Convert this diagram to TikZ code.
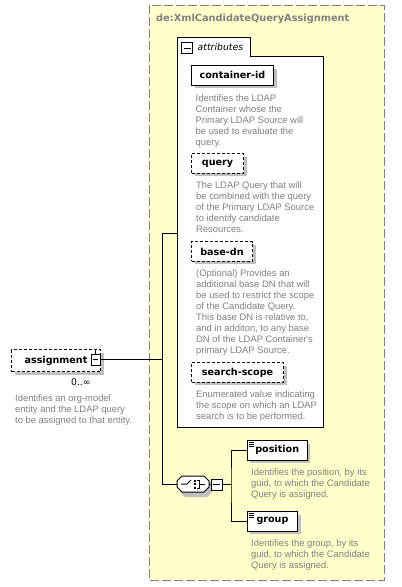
\documentclass[tikz,border=0pt]{standalone}
\usepackage{fontspec}
\setmainfont{DejaVu Sans}
\newfontfamily\descfont{Liberation Sans}
\usetikzlibrary{shadows}
\definecolor{bgyellow}{HTML}{FFFFCC}
\definecolor{txtgray}{HTML}{808080}
\definecolor{shad}{HTML}{C0C0C0}
\tikzset{
  elem/.style={draw=black, fill=white, line width=1pt, anchor=north west, inner sep=0pt,
    font=\fontsize{9.6}{11}\selectfont\bfseries,
    drop shadow={shadow xshift=3pt, shadow yshift=-3pt, fill=shad, opacity=1}},
  optelem/.style={elem, dash pattern=on 3pt off 2pt},
  desc/.style={anchor=north west, inner sep=0pt, align=left, text=txtgray,
    font=\descfont\fontsize{9.4}{11}\selectfont},
  conn/.style={draw=black, line width=1pt},
  minusbox/.style={draw=black, fill=white, line width=1pt, inner sep=0pt,
    minimum width=#1, minimum height=#1,
    path picture={\draw[line width=1pt] ([xshift=2pt]path picture bounding box.west) -- ([xshift=-2pt]path picture bounding box.east);}},
  frame/.style={draw=txtgray, line width=1pt, dash pattern=on 9pt off 3pt},
}
\begin{document}
\begin{tikzpicture}[x=1pt, y=-1pt]
\useasboundingbox (0,0) rectangle (402,587);
\fill[white] (0,0) rectangle (402,587);

% complex type frame
\draw[frame, fill=bgyellow] (149,5) rectangle (384,580);
\node[anchor=north west, inner sep=0pt, text=txtgray, font=\fontsize{9.8}{12}\selectfont\bfseries]
  (title) at (156,13.5) {de:XmlCandidateQueryAssignment};

% attributes group
\draw[conn, fill=white] (177.3,56) -- (177.3,37.7) -- (250,37.7) -- (250,56) -- (323.3,56) -- (323.3,427.3) -- (177.3,427.3) -- cycle;
\node[minusbox=11pt] (attrm) at (187,48) {};
\node[anchor=north west, inner sep=0pt, font=\fontsize{9.3}{11}\selectfont\itshape] (attrlbl) at (197.5,43.5) {attributes};
\coordinate (attrL) at (177.3,233);

\node[elem, minimum width=82pt, minimum height=19.5pt] (cid) at (191,65) {container-id};
\node[desc] (ciddesc) at (195.5,94) {Identifies the LDAP\\Container whose the\\Primary LDAP Source will\\be used to evaluate the\\query.};

\node[optelem, minimum width=52pt, minimum height=19.5pt] (query) at (191,153.3) {query};
\node[desc] (querydesc) at (196,181) {The LDAP Query that will\\be combined with the query\\of the Primary LDAP Source\\to identify candidate\\Resources.};

\node[optelem, minimum width=61pt, minimum height=19.5pt] (basedn) at (191,241.2) {base-dn};
\node[desc] (basedndesc) at (196,269) {(Optional) Provides an\\additional base DN that will\\be used to restrict the scope\\of the Candidate Query.\\This base DN is relative to,\\and in additon, to any base\\DN of the LDAP Container's\\primary LDAP Source.};

\node[optelem, minimum width=92pt, minimum height=19.5pt] (scope) at (191,362.3) {search-scope};
\node[desc] (scopedesc) at (196,390) {Enumerated value indicating\\the scope on which an LDAP\\search is to be performed.};

% root element
\node[optelem, minimum width=89pt, minimum height=22pt] (assign) at (11,349) {assignment\hspace{9pt}};
\node[minusbox=9pt, minimum height=11pt] (assignm) at (95.5,359.5) {};
\draw[line width=1pt] (assignm.north) -- ++(0,-4);
\node[anchor=north west, inner sep=0pt, font=\fontsize{9.2}{11}\selectfont] (mult) at (71,378.5) {0..∞};
\node[desc] (assigndesc) at (15,394) {Identifies an org-model\\entity and the LDAP query\\to be assigned to that entity.};

% sequence compositor
\fill[shad] (182,479) -- (207,479) -- (212,484) -- (212,492) -- (207,497) -- (185,497) -- (180,492) -- (180,484) -- cycle;
\draw[line width=1pt, fill=white] (182,476) -- (204,476) -- (209,481) -- (209,487) -- (204,492) -- (182,492) -- (177,487) -- (177,481) -- cycle;
\node[inner sep=0pt, minimum width=32pt, minimum height=16pt] (seq) at (193,484) {};
\draw[line width=1pt] (181,484) -- (187,484) -- (191,480);
\foreach \yy in {479.5,483,486.5} \fill (194,\yy) rectangle ++(2,2);
\draw[line width=1pt] (197,480) -- (199.5,480) -- (199.5,488) -- (197,488);
\draw[line width=1pt] (199.5,484) -- (205,484);
\node[minusbox=11pt] (seqm) at (216.5,484.5) {};
\coordinate (branch) at (231,484.5);

% children
\node[elem, minimum width=60pt, minimum height=19.5pt] (position) at (246.7,440) {\raisebox{-1.5pt}{position}};
\node[elem, minimum width=50.6pt, minimum height=19.5pt] (group) at (246.7,511) {\raisebox{-1.5pt}{group}};
\foreach \n in {position,group}{
  \foreach \dy in {2,4,6} \draw[line width=0.8pt] ([xshift=2pt,yshift=-\dy pt]\n.north west) -- ++(5,0);
}
\node[desc] (posdesc) at (251,468) {Identifies the position, by its\\guid, to which the Candidate\\Query is assigned.};
\node[desc] (groupdesc) at (251,539) {Identifies the group, by its\\guid, to which the Candidate\\Query is assigned.};

% connectors
\draw[conn] (assignm.east) -- (162,359.5);
\draw[conn] (attrL) -- ++(-15.3,0) |- (seq.west);
\draw[conn] (seq.east) -- (seqm.west);
\draw[conn] (seqm.east) -- (branch);
\draw[conn] (position.west) -| (branch) |- (group.west);
\end{tikzpicture}
\end{document}
